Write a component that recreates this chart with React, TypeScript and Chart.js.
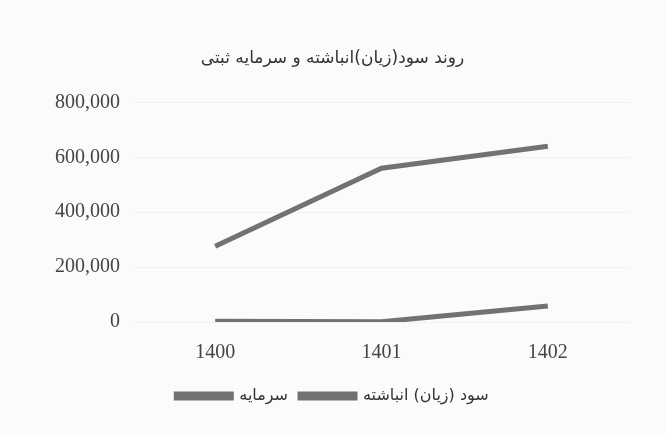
import React, { useEffect, useRef } from "react";
import { Chart, registerables } from "chart.js";

Chart.register(...registerables);

const chartTitle = "روند سود(زیان)انباشته و سرمایه ثبتی";
const years = ["1400", "1401", "1402"];
const capitalLabel = "سرمایه";
const capitalValues = [276000, 560000, 640000];
const profitLabel = "سود (زیان) انباشته";
const profitValues = [3000, 1000, 58000];
const yTicks = [0, 200000, 400000, 600000, 800000];

const lineColor = "#727272";

export default function App() {
  const ref = useRef<HTMLCanvasElement | null>(null);
  useEffect(() => {
    document.body.style.margin = "0";
    document.body.style.background = "#fbfbfb";
    const ctx = ref.current!;
    const chart = new Chart(ctx, {
      type: "line",
      data: {
        labels: years,
        datasets: [
          {
            label: capitalLabel,
            data: capitalValues,
            borderColor: lineColor,
            backgroundColor: lineColor,
            borderWidth: 5,
            pointRadius: 0,
            tension: 0,
          },
          {
            label: profitLabel,
            data: profitValues,
            borderColor: lineColor,
            backgroundColor: lineColor,
            borderWidth: 5,
            pointRadius: 0,
            tension: 0,
          },
        ],
      },
      options: {
        animation: false,
        responsive: false,
        devicePixelRatio: 1,
        layout: { padding: { left: 34, right: 34, top: 0, bottom: 22 } },
        plugins: {
          title: {
            display: true,
            text: chartTitle,
            color: "#333",
            font: { family: "DejaVu Sans", size: 17, weight: "normal" },
            padding: { top: 48, bottom: 34 },
          },
          legend: {
            position: "bottom",
            labels: {
              color: "#333",
              font: { family: "DejaVu Sans", size: 16 },
              boxWidth: 55,
              boxHeight: 4,
              padding: 12,
            },
          },
          tooltip: { enabled: false },
        },
        scales: {
          x: {
            offset: true,
            grid: { display: false },
            border: { display: false },
            ticks: {
              color: "#444",
              font: { family: "Liberation Serif", size: 20 },
              padding: 11,
            },
          },
          y: {
            min: 0,
            max: 800000,
            afterBuildTicks: (scale: any) => {
              scale.ticks = yTicks.map((v) => ({ value: v }));
            },
            afterFit: (scale: any) => {
              scale.width = 98;
            },
            grid: { color: "rgba(0,0,0,0.04)", drawTicks: false },
            border: { display: false },
            ticks: {
              color: "#444",
              font: { family: "Liberation Serif", size: 20 },
              padding: 12,
              callback: (v: any) => Number(v).toLocaleString("en-US"),
            },
          },
        },
      },
    });
    return () => chart.destroy();
  }, []);
  return (
    <div style={{ width: 665, height: 436, background: "#fbfbfb" }}>
      <canvas ref={ref} width={665} height={436} />
    </div>
  );
}
